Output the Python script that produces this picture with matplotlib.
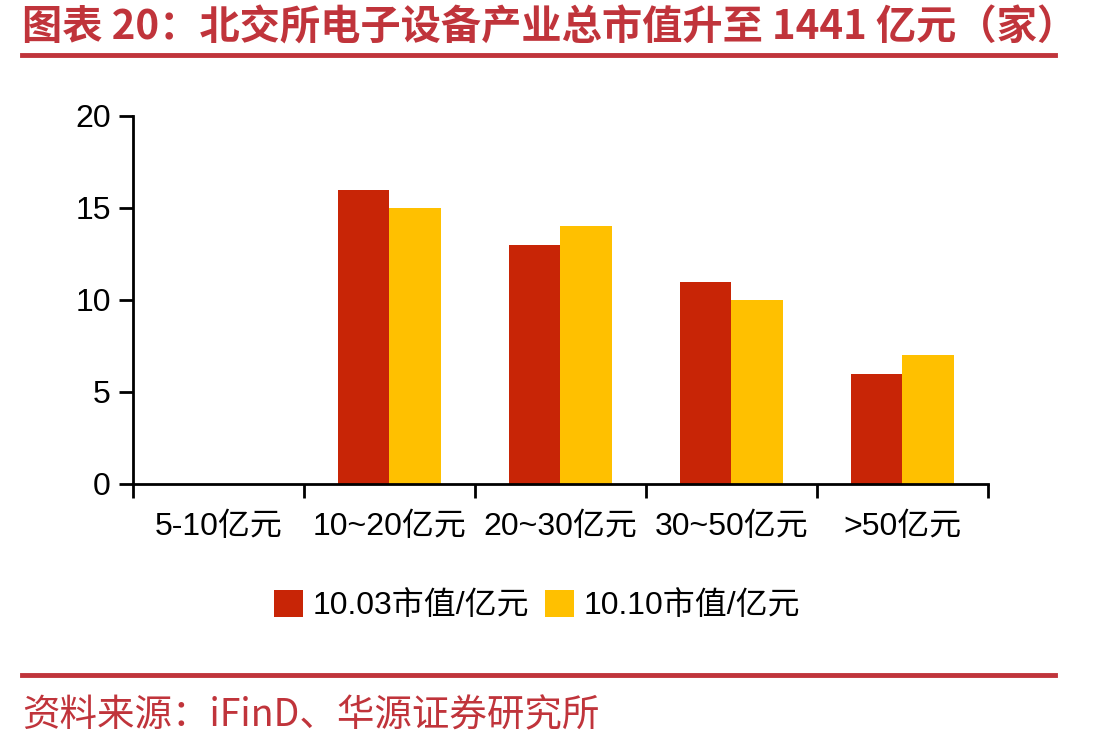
import matplotlib
matplotlib.use('Agg')
import matplotlib.pyplot as plt
import numpy as np

plt.rcParams['font.family'] = ['Liberation Sans', 'Noto Sans CJK SC', 'DejaVu Sans']

categories = ['5-10亿元', '10~20亿元', '20~30亿元', '30~50亿元', '>50亿元']
val_1003 = [0, 16, 13, 11, 6]
val_1010 = [0, 15, 14, 10, 7]
series_names = ['10.03市值/亿元', '10.10市值/亿元']

title = '图表 20：北交所电子设备产业总市值升至 1441 亿元（家）'
source = '资料来源：iFinD、华源证券研究所'

bar_red = '#C82506'
bar_yellow = '#FFC000'
line_red = '#C0343B'

fig = plt.figure(figsize=(11.13, 7.48), dpi=100)
ax = fig.add_axes([0.1195, 0.353, 0.768, 0.492])

x = np.arange(len(categories))
w = 0.3
ax.bar(x - w / 2, val_1003, w, color=bar_red, label=series_names[0])
ax.bar(x + w / 2, val_1010, w, color=bar_yellow, label=series_names[1])

ax.set_xlim(-0.5, len(categories) - 0.5)
ax.set_ylim(0, 20)
ax.set_yticks([0, 5, 10, 15, 20])
ax.set_xticks(np.arange(len(categories) + 1) - 0.5)
ax.set_xticklabels([])
ax.set_xticks(x, minor=True)
ax.set_xticklabels(categories, minor=True)
ax.tick_params(axis='x', which='minor', length=0, pad=20, labelsize=23)
ax.tick_params(axis='x', which='major', length=10, width=2, direction='out')
ax.tick_params(axis='y', length=10, width=2, direction='out', labelsize=23, pad=6)
for s in ['top', 'right']:
    ax.spines[s].set_visible(False)
for s in ['left', 'bottom']:
    ax.spines[s].set_linewidth(2)

ax.legend(loc='upper center', bbox_to_anchor=(0.473, -0.21), ncol=2, frameon=False,
          fontsize=23, handlelength=0.9, handleheight=0.9, handletextpad=0.3,
          columnspacing=0.5)

fig.text(0.02, 0.963, title, fontsize=29, color=line_red, fontweight='bold',
         va='center', ha='left', family=['Noto Sans CJK SC', 'DejaVu Sans'])
fig.add_artist(plt.Line2D([0.02, 0.948], [0.926, 0.926], color=line_red, lw=3.5,
                          transform=fig.transFigure))
fig.add_artist(plt.Line2D([0.02, 0.948], [0.097, 0.097], color=line_red, lw=3.5,
                          transform=fig.transFigure))
fig.text(0.02, 0.043, source, fontsize=27, color=line_red, va='center', ha='left',
         family=['Noto Sans CJK SC', 'DejaVu Sans'])

fig.savefig('out.png', dpi=100)
